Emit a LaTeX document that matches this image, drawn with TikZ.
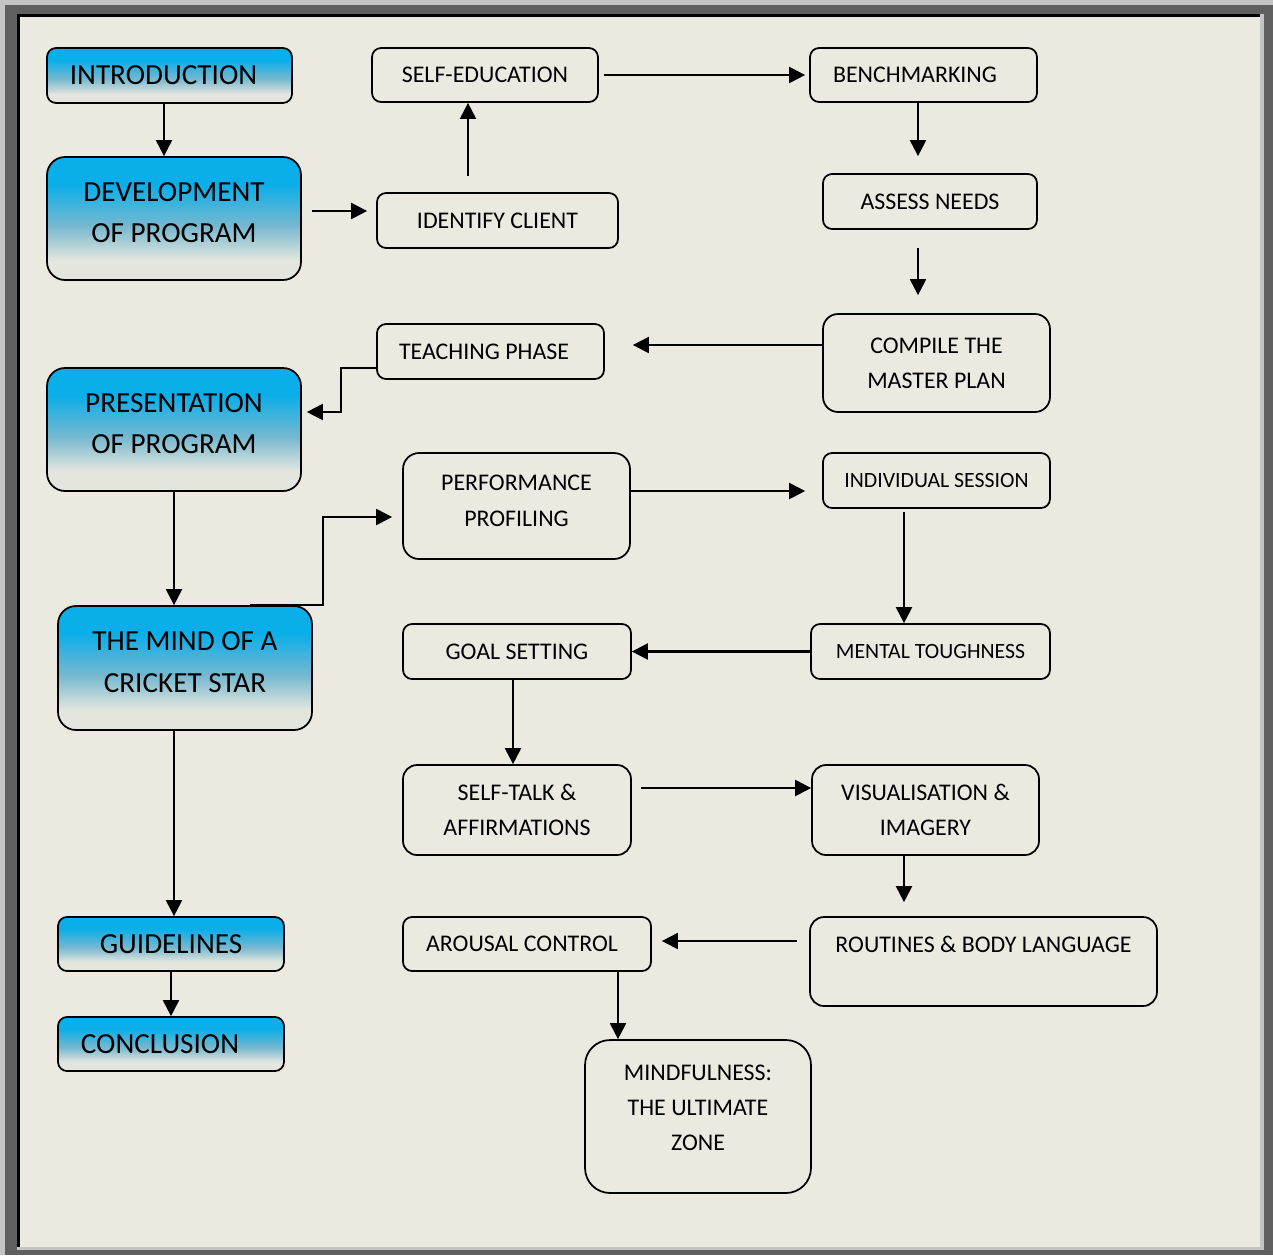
\documentclass[tikz,border=0pt]{standalone}
\usepackage{fontspec}
\setmainfont{Carlito}
\usetikzlibrary{arrows.meta}
\usetikzlibrary{calc}
\definecolor{paper}{RGB}{236,234,224}
\definecolor{frameouter}{RGB}{196,196,196}
\definecolor{framedark}{RGB}{95,95,95}
\definecolor{fadetop}{RGB}{10,174,233}
\definecolor{fademid}{RGB}{118,184,207}
\definecolor{fadeend}{RGB}{228,230,222}
\pgfdeclareverticalshading{bluefade}{100bp}{color(0bp)=(fadeend); color(33bp)=(fadeend); color(47bp)=(fademid); color(64bp)=(fadetop); color(100bp)=(fadetop)}
\tikzstyle{box} = [draw,line width=1pt,rounded corners=0.18cm,fill=paper,inner sep=0mm,align=center,font=\fontsize{13.6}{20}\selectfont]
\tikzstyle{mainbox} = [box,shading=bluefade,rounded corners=0.36cm,font=\fontsize{16.6}{23.8}\selectfont]
\tikzstyle{flow} = [draw,line width=1.2pt,-{Triangle[length=0.32cm,width=0.32cm]}]

\begin{document}
\begin{tikzpicture}[x=0.02cm,y=-0.02cm]
\useasboundingbox (0,0) rectangle (1273,1255);
% page border with shadow
\fill[frameouter] (0,0) rectangle (1273,1255);
\fill[framedark] (5,5) rectangle (1273,1255);
\fill[frameouter] (17,14) rectangle (1264,1250);
\fill[black] (17,14) rectangle (1260,1247);
\fill[paper] (20,17) rectangle (1260,1247);

% main steps (left column)
\draw(169.5,75.5) node[mainbox,rounded corners=0.18cm,minimum width=4.9cm,minimum height=1.1cm] (intro) {INTRODUCTION\rule{0.24cm}{0pt}};
\draw(174,218.5) node[mainbox,minimum width=5.08cm,minimum height=2.46cm] (dev) {DEVELOPMENT\\OF PROGRAM\\[-17pt]\mbox{}};
\draw(174,429.5) node[mainbox,minimum width=5.08cm,minimum height=2.46cm] (pres) {PRESENTATION\\OF PROGRAM\\[-17pt]\mbox{}};
\draw(185,668) node[mainbox,minimum width=5.08cm,minimum height=2.48cm] (mind) {THE MIND OF A\\CRICKET STAR\\[-17pt]\mbox{}};
\draw(171,944) node[mainbox,rounded corners=0.18cm,minimum width=4.52cm,minimum height=1.08cm] (guide) {GUIDELINES};
\draw(171,1044) node[mainbox,rounded corners=0.18cm,minimum width=4.52cm,minimum height=1.08cm] (concl) {CONCLUSION\rule{0.44cm}{0pt}};

% development
\draw(485,75) node[box,minimum width=4.52cm,minimum height=1.08cm] (selfedu) {SELF-EDUCATION};
\draw(497.5,220.5) node[box,minimum width=4.82cm,minimum height=1.1cm] (ident) {IDENTIFY CLIENT};
\draw(923.5,75) node[box,minimum width=4.54cm,minimum height=1.08cm] (bench) {BENCHMARKING\rule{0.34cm}{0pt}};
\draw(930,201.5) node[box,minimum width=4.28cm,minimum height=1.1cm] (assess) {ASSESS NEEDS};
\draw(936.5,363) node[box,rounded corners=0.3cm,minimum width=4.54cm,minimum height=1.96cm] (compile) {COMPILE THE\\MASTER PLAN};

% presentation
\draw(490.5,351.5) node[box,minimum width=4.54cm,minimum height=1.1cm] (teach) {TEACHING PHASE\rule{0.26cm}{0pt}};
\draw(516.5,506) node[box,rounded corners=0.32cm,minimum width=4.54cm,minimum height=2.12cm] (perf) {PERFORMANCE\\PROFILING\\[-14pt]\mbox{}};
\draw(936.5,480.5) node[box,minimum width=4.54cm,minimum height=1.1cm,font=\fontsize{12.4}{18}\selectfont] (indiv) {INDIVIDUAL SESSION};
\draw(517,651.5) node[box,minimum width=4.56cm,minimum height=1.1cm] (goal) {GOAL SETTING};
\draw(930.5,651.5) node[box,minimum width=4.78cm,minimum height=1.1cm,font=\fontsize{12.4}{18}\selectfont] (mental) {MENTAL TOUGHNESS};
\draw(517,810) node[box,rounded corners=0.28cm,minimum width=4.56cm,minimum height=1.8cm] (talk) {SELF-TALK \&\\AFFIRMATIONS};
\draw(925.5,810) node[box,rounded corners=0.28cm,minimum width=4.54cm,minimum height=1.8cm] (visual) {VISUALISATION \&\\IMAGERY};
\draw(527,944) node[box,minimum width=4.96cm,minimum height=1.08cm] (arousal) {AROUSAL CONTROL\rule{0.2cm}{0pt}};
\draw(983.5,961.5) node[box,rounded corners=0.28cm,minimum width=6.94cm,minimum height=1.78cm] (routine) {ROUTINES \& BODY LANGUAGE\\\mbox{}};
\draw(698,1116.5) node[box,rounded corners=0.5cm,minimum width=4.52cm,minimum height=3.06cm] (mindful) {MINDFULNESS:\\THE ULTIMATE\\ZONE\\[-10pt]\mbox{}};

% arrows
\draw[flow] ($(intro.south)+(-5.5,0)$) coordinate (a1) -- (a1 |- dev.north);
\draw[flow,shorten <=0.2cm,shorten >=0.18cm] ($(dev.east)+(0,-7.5)$) coordinate (a2) -- (a2 -| ident.west);
\draw[flow,shorten <=0.32cm] ($(ident.north)+(-29.5,0)$) coordinate (a3) -- (a3 |- selfedu.south);
\draw[flow,shorten <=0.1cm,shorten >=0.08cm] (selfedu.east) -- (bench.west);
\draw[flow,shorten >=0.34cm] ($(bench.south)+(-5.5,0)$) coordinate (a5) -- (a5 |- assess.north);
\draw[flow,shorten <=0.36cm,shorten >=0.36cm] ($(assess.south)+(-12,0)$) coordinate (a6) -- (a6 |- compile.north);
\draw[flow,shorten >=0.56cm] ($(compile.west)+(0,-18)$) coordinate (a7) -- (a7 -| teach.east);
\draw[flow,shorten >=0.1cm] ($(teach.west)+(0,16.5)$) -- ++(-35,0) |- ($(pres.east)+(0,-17.5)$);
\draw[flow] (pres.south) -- (pres.south |- mind.north);
\draw[flow,shorten >=0.2cm] ($(mind.north)+(65,0)$) -- ++(73,0) |- ($(perf.west)+(0,11)$);
\draw[flow,shorten >=0.34cm] ($(perf.east)+(0,-15)$) coordinate (a11) -- (a11 -| indiv.west);
\draw[flow,shorten <=0.06cm] ($(indiv.south)+(-32.5,0)$) coordinate (a12) -- (a12 |- mental.north);
\draw[flow] (mental.west) -- (goal.east);
\draw[flow] ($(goal.south)+(-4,0)$) coordinate (a14) -- (a14 |- talk.north);
\draw[flow,shorten <=0.18cm] ($(talk.east)+(0,-22)$) coordinate (a15) -- (a15 -| visual.west);
\draw[flow,shorten >=0.28cm] ($(visual.south)+(-21.5,0)$) coordinate (a16) -- (a16 |- routine.north);
\draw[flow,shorten <=0.24cm,shorten >=0.2cm] ($(routine.west)+(0,-20.5)$) coordinate (a17) -- (a17 -| arousal.east);
\draw[flow] ($(arousal.south)+(91,0)$) coordinate (a18) -- (a18 |- mindful.north);
\draw[flow] ($(mind.south)+(-11,0)$) coordinate (a19) -- (a19 |- guide.north);
\draw[flow] (guide.south) -- (concl.north);

\end{tikzpicture}
\end{document}
